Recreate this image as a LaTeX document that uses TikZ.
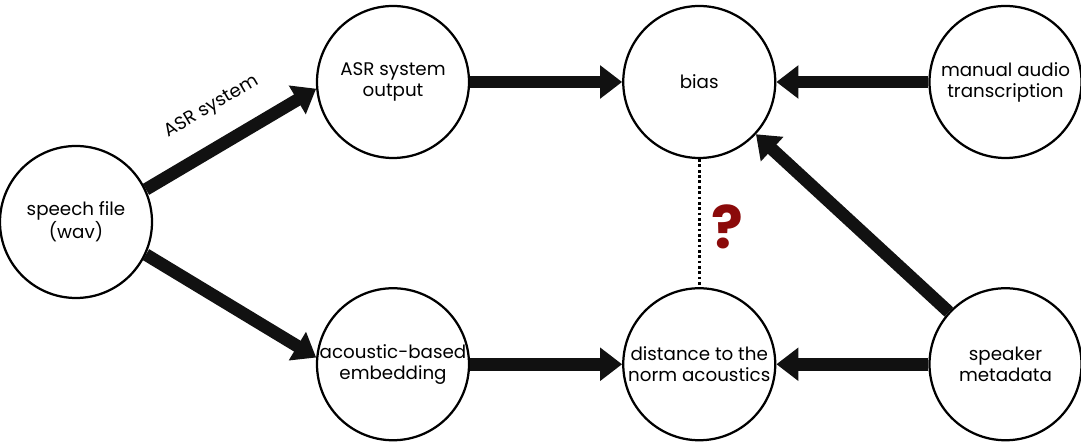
\documentclass[tikz,border=0pt]{standalone}
\usepackage{fontspec}
\setmainfont{Poppins}
\usepackage{tikz}
\usetikzlibrary{arrows.meta, positioning, calc}
\definecolor{qred}{HTML}{8B0A0A}
\definecolor{ink}{HTML}{111111}

\begin{document}
\begin{tikzpicture}[
    topic/.style={draw, circle, line width=1.6pt, minimum size=3.8cm, inner sep=0pt, align=center, font=\fontsize{13}{15}\selectfont},
    flow/.style={draw=ink, line width=9pt, -{Triangle[length=0.55cm, width=0.8cm]}}
]
    \useasboundingbox (0,0) rectangle (27.025,11.125);

    \node (speech) [topic] at (1.9,5.575) {speech file\\(wav)};
    \node (asr) [topic] at (9.825,9.075) {ASR system\\output};
    \node (bias) [topic, right=3.8 of asr] {bias};
    \node (manual) [topic, right=3.8 of bias] {manual audio\\transcription};
    \node (acoustic) [topic, below=3.2 of asr] {acoustic-based\\embedding};
    \node (distance) [topic, right=3.8 of acoustic] {distance to the\\norm acoustics};
    \node (speaker) [topic, right=3.8 of distance] {speaker\\metadata};

    \draw[flow] (speech.25) -- (asr.185) node[midway, sloped, above=0.55cm, inner sep=0pt, font=\fontsize{13}{15}\selectfont] {ASR system};
    \draw[flow] (speech.-25) -- (acoustic.175);
    \draw[flow] (asr.east) -- (bias.west);
    \draw[flow] (manual.west) -- (bias.east);
    \draw[flow] (acoustic.east) -- (distance.west);
    \draw[flow] (speaker.west) -- (distance.east);
    \draw[flow] (speaker) -- (bias);

    \draw[line width=2pt, dash pattern=on 2pt off 1.8pt] (bias) -- (distance) node (quest) [midway, right=0.15cm, yshift=-0.1cm, text=qred, font=\fontsize{42}{44}\selectfont\bfseries] {?};
\end{tikzpicture}
\end{document}
